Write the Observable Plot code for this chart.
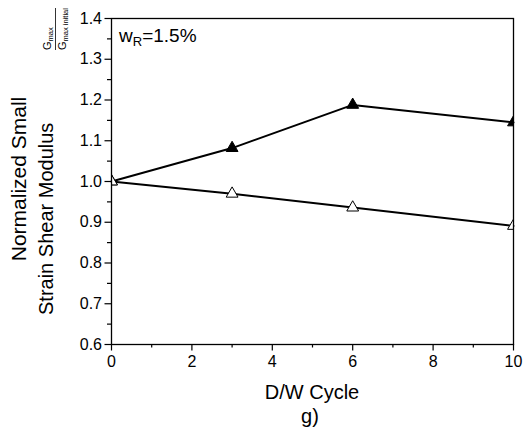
<!DOCTYPE html>
<html>
<head>
<meta charset="utf-8">
<script src="https://cdn.jsdelivr.net/npm/d3@7"></script>
<script src="https://cdn.jsdelivr.net/npm/@observablehq/plot@0.6"></script>
<style>
  html, body { margin: 0; padding: 0; background: #fff; }
  #chart svg { display: block; }
</style>
</head>
<body>
<div id="chart"></div>
<script>
// ---- data ----
const cycles = [0, 3, 6, 10];
const gmaxFilled = [1.000, 1.082, 1.188, 1.145];
const gmaxOpen = [1.000, 0.970, 0.936, 0.891];

const xTicks = [0, 2, 4, 6, 8, 10];
const xMinorTicks = [1, 3, 5, 7, 9];
const yTicks = [0.6, 0.7, 0.8, 0.9, 1.0, 1.1, 1.2, 1.3, 1.4];
const yMinorTicks = [0.65, 0.75, 0.85, 0.95, 1.05, 1.15, 1.25, 1.35];

const annotation = "w";
const annotationSub = "R";
const annotationRest = "=1.5%";
const xTitle = "D/W Cycle";
const panelLabel = "g)";
const yTitle1 = "Normalized Small";
const yTitle2 = "Strain Shear Modulus ";

const filled = cycles.map((c, i) => ({cycle: c, value: gmaxFilled[i]}));
const open = cycles.map((c, i) => ({cycle: c, value: gmaxOpen[i]}));

const FONT = "'Liberation Sans', Arial, Helvetica, sans-serif";

const svg = Plot.plot({
  width: 526,
  height: 430,
  marginLeft: 111,
  marginRight: 13,
  marginTop: 18,
  marginBottom: 86,
  style: {fontFamily: FONT, background: "#fff", color: "#000"},
  x: {domain: [0, 10]},
  y: {domain: [0.6, 1.4]},
  marks: [
    Plot.axisX(xTicks, {tickSize: 6.5, tickPadding: 5, fontSize: 16, label: null, tickFormat: d => String(d), strokeWidth: 1.2}),
    Plot.axisX(xMinorTicks, {tickSize: 3.5, text: null, label: null, strokeWidth: 1.2}),
    Plot.axisY(yTicks, {tickSize: 6.5, tickPadding: 3, fontSize: 16, label: null, tickFormat: d => d.toFixed(1), strokeWidth: 1.2}),
    Plot.axisY(yMinorTicks, {tickSize: 4, text: null, label: null, strokeWidth: 1.2}),
    Plot.line(filled, {x: "cycle", y: "value", stroke: "#000", strokeWidth: 2}),
    Plot.line(open, {x: "cycle", y: "value", stroke: "#000", strokeWidth: 2}),
    Plot.dot(filled, {x: "cycle", y: "value", symbol: "triangle", r: 4.4, fill: "#000", stroke: "#000", strokeWidth: 1, clip: true}),
    Plot.dot(open, {x: "cycle", y: "value", symbol: "triangle", r: 4.4, fill: "#fff", stroke: "#000", strokeWidth: 1, clip: true}),
    Plot.frame({stroke: "#000", strokeWidth: 1.3})
  ]
});

const s = d3.select(svg);

// annotation w_R=1.5%
const ann = s.append("text")
  .attr("x", 119).attr("y", 42).attr("text-anchor", "start")
  .attr("font-family", FONT).attr("font-size", 19).attr("fill", "#000");
ann.append("tspan").text(annotation);
ann.append("tspan").attr("font-size", 13).attr("dy", 4).text(annotationSub);
ann.append("tspan").attr("dy", -4).text(annotationRest);

// x title and panel label
s.append("text").attr("x", 312).attr("y", 399).attr("text-anchor", "middle")
  .attr("font-family", FONT).attr("font-size", 20).attr("fill", "#000").text(xTitle);
s.append("text").attr("x", 310).attr("y", 423).attr("text-anchor", "middle")
  .attr("font-family", FONT).attr("font-size", 20).attr("fill", "#000").text(panelLabel);

// y title
s.append("text").attr("transform", "translate(26,179) rotate(-90)").attr("text-anchor", "middle")
  .attr("font-family", FONT).attr("font-size", 21).attr("fill", "#000").text(yTitle1);
s.append("text").attr("transform", "translate(53,315) rotate(-90)").attr("text-anchor", "start")
  .attr("font-family", FONT).attr("font-size", 20).attr("fill", "#000").text(yTitle2);

// fraction Gmax / Gmax initial
const num = s.append("text").attr("transform", "translate(51,50) rotate(-90)").attr("text-anchor", "start")
  .attr("font-family", FONT).attr("font-size", 11).attr("fill", "#000");
num.append("tspan").text("G");
num.append("tspan").attr("font-size", 7.5).attr("dy", 2).text("max");
s.append("line").attr("x1", 55.5).attr("x2", 55.5).attr("y1", 8).attr("y2", 50)
  .attr("stroke", "#000").attr("stroke-width", 0.8);
const den = s.append("text").attr("transform", "translate(66,50) rotate(-90)").attr("text-anchor", "start")
  .attr("font-family", FONT).attr("font-size", 11).attr("fill", "#000");
den.append("tspan").text("G");
den.append("tspan").attr("font-size", 7.5).attr("dy", 2).text("max initial");

document.getElementById("chart").appendChild(svg);
</script>
</body>
</html>
